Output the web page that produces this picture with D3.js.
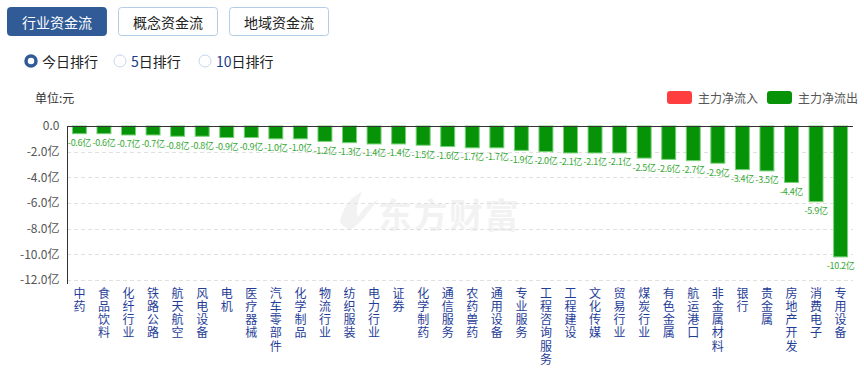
<!DOCTYPE html>
<html><head><meta charset="utf-8">
<script src="https://cdn.jsdelivr.net/npm/d3@7"></script>
<style>
body{margin:0;background:#fff;font-family:"Microsoft YaHei","Noto Sans CJK SC",sans-serif;}
svg{display:block}
</style></head>
<body><svg id="c" width="864" height="369"></svg>
<script>
const categories = ["中药","食品饮料","化纤行业","铁路公路","航天航空","风电设备","电机","医疗器械","汽车零部件","化学制品","物流行业","纺织服装","电力行业","证券","化学制药","通信服务","农药兽药","通用设备","专业服务","工程咨询服务","工程建设","文化传媒","贸易行业","煤炭行业","有色金属","航运港口","非金属材料","银行","贵金属","房地产开发","消费电子","专用设备"];
const values = [-0.6,-0.6,-0.7,-0.7,-0.8,-0.8,-0.9,-0.9,-1.0,-1.0,-1.2,-1.3,-1.4,-1.4,-1.5,-1.6,-1.7,-1.7,-1.9,-2.0,-2.1,-2.1,-2.1,-2.5,-2.6,-2.7,-2.9,-3.4,-3.5,-4.4,-5.9,-10.2];
const yTicks = [0,-2,-4,-6,-8,-10,-12];
const tabs = ["行业资金流","概念资金流","地域资金流"];
const radios = [["","今日排行"],["5","日排行"],["10","日排行"]];
const legendItems = [["主力净流入","#ff3f3f"],["主力净流出","#079307"]];

const svg = d3.select("#c");
const font = '"Microsoft YaHei","Noto Sans CJK SC",sans-serif';

// tabs
const tabX = d3.scaleBand().domain(tabs).range([7,329]).paddingInner(0.1);
tabs.forEach((t,i)=>{
  const g = svg.append("g");
  g.append("rect").attr("x",tabX(t)+0.5).attr("y",7.5).attr("width",tabX.bandwidth()-1).attr("height",28)
    .attr("rx",3).attr("fill",i===0?"#305b97":"#fff").attr("stroke",i===0?"#305b97":"#b3cde8");
  g.append("text").attr("x",tabX(t)+tabX.bandwidth()/2).attr("y",22).attr("text-anchor","middle")
    .attr("dominant-baseline","central").attr("font-size",14).attr("font-family",font)
    .attr("fill",i===0?"#fff":"#222").text(t);
});
// radios
const radioPos = [31,120,205];
radios.forEach((r,i)=>{
  const cx = radioPos[i];
  if(i===0){
    svg.append("circle").attr("cx",cx).attr("cy",61).attr("r",5).attr("fill","#fff").attr("stroke","#305b97").attr("stroke-width",3.5);
  } else {
    svg.append("circle").attr("cx",cx).attr("cy",61).attr("r",6).attr("fill","#fff").attr("stroke","#c6d6ea").attr("stroke-width",1);
  }
  const t = svg.append("text").attr("x",cx+11).attr("y",61).attr("dominant-baseline","central")
    .attr("font-size",14).attr("font-family",font).attr("fill","#222");
  if(r[0]) t.append("tspan").attr("fill","#1b3c8c").text(r[0]);
  t.append("tspan").text(r[1]);
});
svg.append("text").attr("x",35).attr("y",97).attr("dominant-baseline","central").attr("font-size",12)
  .attr("font-family",font).attr("fill","#333").text("单位:元");

// legend
const legX = [667,767];
legendItems.forEach((l,i)=>{
  svg.append("rect").attr("x",legX[i]).attr("y",91).attr("width",25).attr("height",13).attr("rx",3).attr("fill",l[1]);
  svg.append("text").attr("x",legX[i]+31).attr("y",97.5).attr("dominant-baseline","central").attr("font-size",12)
    .attr("font-family",font).attr("fill","#555").text(l[0]);
});

// scales
const x = d3.scaleBand().domain(categories).range([67,853]).paddingInner(0.39).paddingOuter(0.2);
const y = d3.scaleLinear().domain([0,-12]).range([126,280]);

// watermark
const wm = svg.append("g").attr("fill","#f2f2f2");
wm.append("path").attr("d","M340,222 C343,206 352,196 362,192 C357,202 356,210 358,217 C363,208 370,203 378,200 C370,210 362,222 351,230 C347,228 342,226 340,222 Z");
wm.append("text").attr("x",378).attr("y",213).attr("dominant-baseline","central").attr("font-size",34)
  .attr("font-weight","bold").attr("font-family",font).attr("letter-spacing",1.5).text("东方财富");

// grid
svg.append("g").selectAll("line").data(yTicks.filter(d=>d!==0)).join("line")
  .attr("x1",67).attr("x2",853).attr("y1",d=>Math.round(y(d))+0.5).attr("y2",d=>Math.round(y(d))+0.5)
  .attr("stroke","#e0e0e0").attr("stroke-dasharray","4,3");

// y axis
const yAxis = d3.axisLeft(y).tickValues(yTicks).tickSize(0).tickPadding(8)
  .tickFormat(d=> d===0 ? "0.0" : d3.format(".1f")(d).replace("−","-")+"亿");
const ya = svg.append("g").attr("transform","translate(67.5,0)").call(yAxis);
ya.select(".domain").attr("stroke","#333").attr("d","M0,126V284");
ya.selectAll("text").attr("font-size",12).attr("font-family",font).attr("fill","#555");

// bars
svg.append("g").selectAll("rect").data(values).join("rect")
  .attr("x",(d,i)=>x(categories[i])+0.5).attr("y",y(0))
  .attr("width",x.bandwidth()-1).attr("height",d=>y(d)-y(0))
  .attr("fill","#079307").attr("stroke","#79d279").attr("stroke-width",1);

// x axis line
svg.append("line").attr("x1",67).attr("x2",853).attr("y1",126.5).attr("y2",126.5).attr("stroke","#333");

// value labels
svg.append("g").selectAll("text").data(values).join("text")
  .attr("x",(d,i)=>x(categories[i])+x.bandwidth()/2).attr("y",d=>y(d)+9)
  .attr("text-anchor","middle").attr("dominant-baseline","central").attr("font-size",9)
  .attr("letter-spacing",-0.3)
  .attr("font-family",font).attr("fill","#34a834").text(d=>d.toFixed(1)+"亿");

// category labels (vertical)
svg.append("g").selectAll("text").data(categories).join("text")
  .attr("x",d=>x(d)+x.bandwidth()/2).attr("y",287)
  .attr("writing-mode","tb").style("writing-mode","vertical-rl").style("text-orientation","upright")
  .attr("letter-spacing",1.3)
  .attr("font-size",12).attr("font-family",font).attr("fill","#1f3e98").text(d=>d);
</script></body></html>
